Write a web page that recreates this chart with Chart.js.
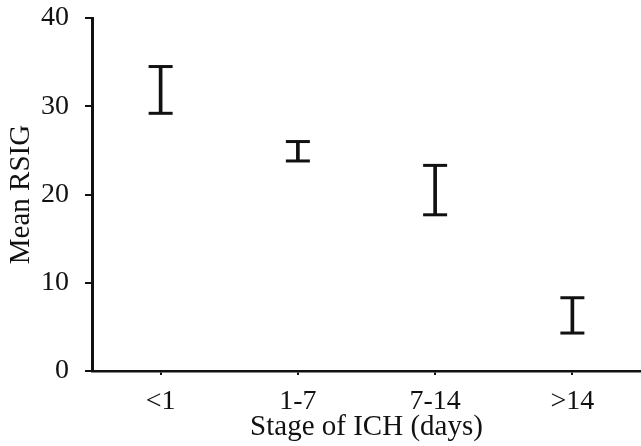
<!DOCTYPE html>
<html>
<head>
<meta charset="utf-8">
<script src="https://cdn.jsdelivr.net/npm/chart.js@4/dist/chart.umd.min.js"></script>
<style>
  html, body { margin: 0; padding: 0; background: #fff; overflow: hidden; }
  #wrap { width: 641px; height: 446px; }
  canvas { display: block; }
</style>
</head>
<body>
<div id="wrap"><canvas id="c"></canvas></div>
<script>
const stages = ['<1', '1-7', '7-14', '>14'];
const lowValues = [29.2, 23.8, 17.7, 4.3];
const highValues = [34.5, 26.0, 23.3, 8.3];
const yTicks = [0, 10, 20, 30, 40];

const serif = '"Liberation Serif", "Times New Roman", serif';
const ink = '#111';

const ctx = document.getElementById('c').getContext('2d');
new Chart(ctx, {
  type: 'bar',
  data: {
    labels: stages,
    datasets: [
      { // error bar stems
        data: stages.map((s, i) => [lowValues[i], highValues[i]]),
        backgroundColor: ink,
        borderWidth: 0,
        barThickness: 3
      },
      { // top caps
        type: 'line', data: highValues, showLine: false,
        pointStyle: 'line', pointRadius: 12, pointBorderWidth: 3,
        borderColor: ink, pointBorderColor: ink
      },
      { // bottom caps
        type: 'line', data: lowValues, showLine: false,
        pointStyle: 'line', pointRadius: 12, pointBorderWidth: 3,
        borderColor: ink, pointBorderColor: ink
      }
    ]
  },
  options: {
    responsive: true,
    maintainAspectRatio: false,
    animation: false,
    layout: { autoPadding: false, padding: { top: 18, right: 0, left: 0, bottom: 0 } },
    plugins: { legend: { display: false }, tooltip: { enabled: false } },
    scales: {
      x: {
        offset: true,
        afterFit: s => { s.height = 75; s.paddingLeft = 0; s.paddingRight = 0; },
        grid: { display: true, drawOnChartArea: false, offset: false, tickLength: 4, color: ink, lineWidth: 2 },
        border: { color: ink, width: 2.5 },
        ticks: { color: ink, padding: 10, font: { family: serif, size: 28 } },
        title: { display: true, text: 'Stage of ICH (days)', color: ink, padding: { top: 0, bottom: 1 }, font: { family: serif, size: 29 } }
      },
      y: {
        min: 0, max: 40,
        afterFit: s => { s.width = 92; s.paddingTop = 0; s.paddingBottom = 0; },
        afterBuildTicks: s => { s.ticks = yTicks.map(v => ({ value: v })); },
        grid: { display: true, drawOnChartArea: false, tickLength: 7, color: ink, lineWidth: 2 },
        border: { color: ink, width: 3 },
        ticks: { color: ink, padding: 16, font: { family: serif, size: 28 } },
        title: { display: true, text: 'Mean RSIG', color: ink, padding: { top: 4, bottom: 0 }, font: { family: serif, size: 29 } }
      }
    }
  }
});
</script>
</body>
</html>
